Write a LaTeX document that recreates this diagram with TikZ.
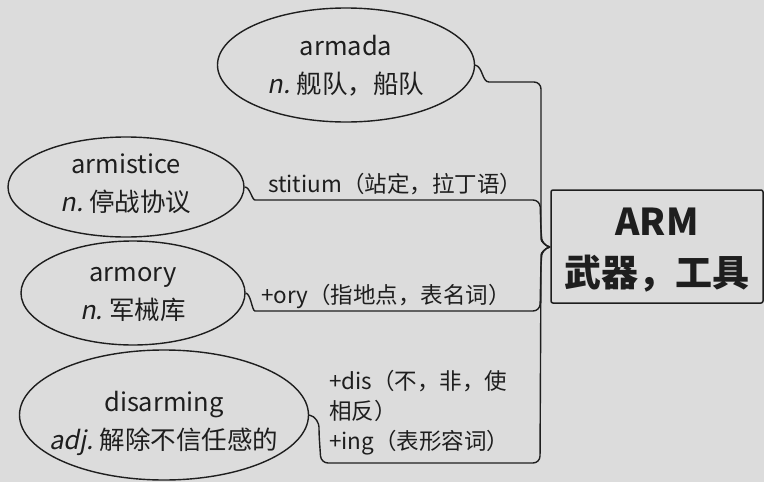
\documentclass[tikz,border=0pt]{standalone}
\usepackage{fontspec}
\setmainfont{Noto Sans CJK SC}[ItalicFont={Noto Sans CJK SC},ItalicFeatures={FakeSlant=0.2}]
\definecolor{bgc}{RGB}{220,220,220}
\definecolor{ink}{RGB}{30,30,30}
\newcommand{\pos}[1]{\textit{#1}\kern6pt}
\begin{document}
\begin{tikzpicture}[x=1pt,y=-1pt,
  oval/.style={draw=ink,line width=1.4pt,ellipse,inner sep=0pt},
  word/.style={text=ink,align=center,inner sep=0pt,font=\fontsize{25.5}{38}\selectfont},
  lab/.style={text=ink,inner sep=0pt,font=\fontsize{22.5}{30}\selectfont},
  conn/.style={draw=ink,line width=1.4pt,rounded corners=7pt},
  hub/.style={draw=ink,line width=1.5pt,rounded corners=2pt,minimum width=212pt,minimum height=113pt,inner sep=0pt}]
\usetikzlibrary{shapes.geometric}
\fill[bgc] (0,0) rectangle (764,482);
\useasboundingbox (0,0) rectangle (764,482);
% central box
\node[hub] (arm) at (657,246.5) {};
\node[text=ink,align=center,inner sep=0pt,font=\fontsize{37}{51}\bfseries\selectfont] (armt) at (657,250) {ARM\\武器，工具};
% ellipses
\node[oval,minimum width=257pt,minimum height=114pt] (armada) at (346,65) {};
\node[word] (armadat) at (346,66) {armada\\\pos{n.}舰队，船队};
\node[oval,minimum width=236pt,minimum height=100pt] (armistice) at (126,187) {};
\node[word] (armisticet) at (126,184) {armistice\\\pos{n.}停战协议};
\node[oval,minimum width=224pt,minimum height=104pt] (armory) at (133,293) {};
\node[word] (armoryt) at (133,294) {armory\\\pos{n.}军械库};
\node[oval,minimum width=289pt,minimum height=130pt] (disarming) at (164,415) {};
\node[word] (disarmingt) at (164,423) {disarming\\\pos{adj.}解除不信任感的};
% junction
\coordinate (J) at (550,247);
% connector labels
\node[lab,anchor=west] (l1) at (268,184) {stitium（站定，拉丁语）};
\node[lab,anchor=west] (l2) at (261,296) {+ory（指地点，表名词）};
\node[lab,anchor=north west,align=left] (l3) at (329,370) {+dis（不，非，使\\相反）\\+ing（表形容词）};
% connectors
\draw[conn] (armada.east) .. controls (483,67) and (482,82) .. (496,82) -- (541,82) -- (541,232) .. controls (541,241) and (545,246) .. (J);
\draw[conn] (armistice.east) .. controls (250,187) and (252,200) .. (262,200) -- (540,200) -- (541,232) .. controls (542,241) and (545,246) .. (J);
\draw[conn] (armory.east) .. controls (251,294) and (252,311) .. (262,311) -- (540,311) -- (541,262) .. controls (542,253) and (545,248) .. (J);
\draw[conn] (disarming.east) .. controls (316,416) and (319,424) .. (319,434) -- (321,463) -- (540,463) -- (541,262) .. controls (541,253) and (545,248) .. (J);
\end{tikzpicture}
\end{document}
